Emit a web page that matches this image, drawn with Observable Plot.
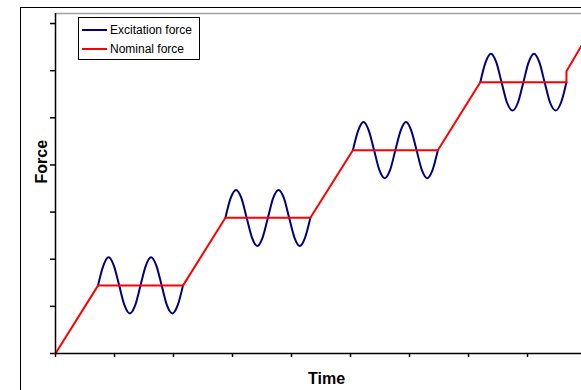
<!DOCTYPE html>
<html>
<head>
<meta charset="utf-8">
<script src="https://cdn.jsdelivr.net/npm/d3@7"></script>
<script src="https://cdn.jsdelivr.net/npm/@observablehq/plot@0.6"></script>
<style>
  html, body { margin: 0; padding: 0; background: #fff; }
  #wrap { position: relative; width: 581px; height: 390px; overflow: hidden; font-family: "Liberation Sans", Arial, sans-serif; }
  #outer { position: absolute; left: 20px; top: 7px; width: 700px; height: 500px; border-left: 1px solid #000; border-top: 1px solid #000; }
  #chart { position: absolute; left: 0; top: 0; }
  #legend { position: absolute; left: 78px; top: 17px; width: 120px; height: 41px; border: 1px solid #000; background: #fff; font-size: 12px; color: #000; }
  #legend .row { position: absolute; left: 3px; height: 14px; line-height: 14px; white-space: nowrap; }
  #legend .sw { display: inline-block; width: 25px; height: 0; border-top: 2px solid; vertical-align: middle; margin-right: 3px; position: relative; top: -1px; }
</style>
</head>
<body>
<div id="wrap">
  <div id="outer"></div>
  <div id="chart"></div>
  <div id="legend"></div>
</div>
<script>
// ---- data ----
const seriesNames = ["Excitation force", "Nominal force"];
const seriesColors = ["#000080", "#ff0000"];

const nominalTime  = [0, 0.72, 2.16, 2.88, 4.32, 5.04, 6.48, 7.20, 8.66, 8.66, 8.915];
const nominalForce = [0, 1.44, 1.44, 2.88, 2.88, 4.31, 4.31, 5.755, 5.755, 5.99, 6.53];

// excitation force during the hold phases (on the ramps it coincides with the nominal force)
const excitationTime = [
  0.72, 0.81, 0.90, 0.99, 1.08, 1.17, 1.26, 1.35, 1.44, 1.53, 1.62, 1.71, 1.80, 1.89, 1.98, 2.07, 2.16,
  2.88, 2.97, 3.06, 3.15, 3.24, 3.33, 3.42, 3.51, 3.60, 3.69, 3.78, 3.87, 3.96, 4.05, 4.14, 4.23, 4.32,
  5.04, 5.13, 5.22, 5.31, 5.40, 5.49, 5.58, 5.67, 5.76, 5.85, 5.94, 6.03, 6.12, 6.21, 6.30, 6.39, 6.48,
  7.20, 7.29, 7.38, 7.47, 7.56, 7.65, 7.75, 7.84, 7.93, 8.02, 8.11, 8.20, 8.29, 8.38, 8.48, 8.57, 8.66
];
const excitationForce = [
  1.44, 1.86, 2.04, 1.86, 1.44, 1.02, 0.85, 1.02, 1.44, 1.86, 2.04, 1.86, 1.44, 1.02, 0.85, 1.02, 1.44,
  2.88, 3.30, 3.47, 3.30, 2.88, 2.46, 2.28, 2.46, 2.88, 3.30, 3.47, 3.30, 2.88, 2.46, 2.28, 2.46, 2.88,
  4.31, 4.73, 4.91, 4.73, 4.31, 3.89, 3.72, 3.89, 4.31, 4.73, 4.91, 4.73, 4.31, 3.89, 3.72, 3.89, 4.31,
  5.755, 6.18, 6.36, 6.18, 5.755, 5.33, 5.155, 5.33, 5.755, 6.18, 6.36, 6.18, 5.755, 5.33, 5.155, 5.33, 5.755
];
const excitationPhase = [
  "hold 1","hold 1","hold 1","hold 1","hold 1","hold 1","hold 1","hold 1","hold 1","hold 1","hold 1","hold 1","hold 1","hold 1","hold 1","hold 1","hold 1",
  "hold 2","hold 2","hold 2","hold 2","hold 2","hold 2","hold 2","hold 2","hold 2","hold 2","hold 2","hold 2","hold 2","hold 2","hold 2","hold 2","hold 2",
  "hold 3","hold 3","hold 3","hold 3","hold 3","hold 3","hold 3","hold 3","hold 3","hold 3","hold 3","hold 3","hold 3","hold 3","hold 3","hold 3","hold 3",
  "hold 4","hold 4","hold 4","hold 4","hold 4","hold 4","hold 4","hold 4","hold 4","hold 4","hold 4","hold 4","hold 4","hold 4","hold 4","hold 4","hold 4"
];

const xTicks = [0, 1, 2, 3, 4, 5, 6, 7, 8];
const yTicks = [0, 1, 2, 3, 4, 5, 6, 7];
const xDomain = [0, 8.915];
const yDomain = [0, 7.213];
const xTitle = "Time";
const yTitle = "Force";

// ---- build tables ----
const nominal = nominalTime.map((t, i) => ({t, f: nominalForce[i]}));
const excitation = excitationTime.map((t, i) => ({t, f: excitationForce[i], phase: excitationPhase[i]}));

const chart = Plot.plot({
  width: 581,
  height: 390,
  marginLeft: 55,
  marginRight: 0,
  marginTop: 13,
  marginBottom: 37,
  style: { background: "transparent", fontFamily: "'Liberation Sans', Arial, sans-serif", color: "#000", overflow: "visible" },
  x: { domain: xDomain, ticks: xTicks, tickSize: 4, tickFormat: () => "", label: null },
  y: { domain: yDomain, ticks: yTicks, tickSize: 5, tickFormat: () => "", label: null },
  marks: [
    Plot.ruleY([yDomain[1]], { stroke: "#a0a0a0", strokeWidth: 1.5 }),
    Plot.line(excitation, { x: "t", y: "f", z: "phase", stroke: seriesColors[0], strokeWidth: 2, curve: "monotone-x" }),
    Plot.line(nominal, { x: "t", y: "f", stroke: seriesColors[1], strokeWidth: 2 }),
    Plot.ruleX([0], { stroke: "#000", strokeWidth: 1.5 }),
    Plot.ruleY([0], { stroke: "#000", strokeWidth: 1.5 }),
    Plot.text([xTitle], { frameAnchor: "bottom", text: d => d, dx: 8, dy: 30, lineAnchor: "bottom", fontWeight: "bold", fontSize: 16 }),
    Plot.text([yTitle], { frameAnchor: "left", text: d => d, rotate: -90, dx: -14, fontWeight: "bold", fontSize: 16 })
  ]
});
chart.querySelectorAll("[aria-label$='axis'] path, [aria-label$='tick'] path").forEach(p => { p.setAttribute("stroke", "#000"); p.setAttribute("stroke-width", "1.5"); });
document.getElementById("chart").appendChild(chart);

// ---- legend ----
const legend = document.getElementById("legend");
seriesNames.forEach((name, i) => {
  const row = document.createElement("div");
  row.className = "row";
  row.style.top = (5 + i * 19) + "px";
  const sw = document.createElement("span");
  sw.className = "sw";
  sw.style.borderTopColor = seriesColors[i];
  row.appendChild(sw);
  row.appendChild(document.createTextNode(name));
  legend.appendChild(row);
});
</script>
</body>
</html>
